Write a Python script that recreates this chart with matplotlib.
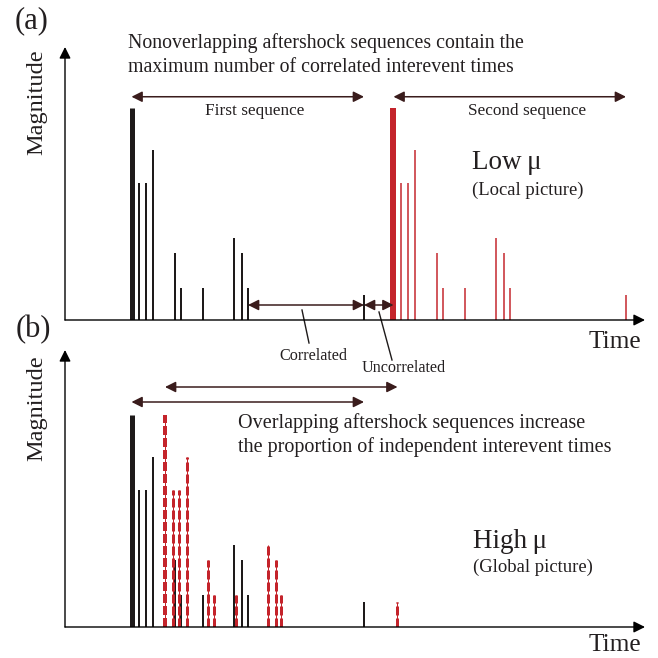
import matplotlib
matplotlib.use("Agg")
import matplotlib.pyplot as plt

plt.rcParams["font.family"] = ["Liberation Serif", "DejaVu Serif"]

# aftershock sequence: time offsets after the mainshock and magnitudes (arbitrary units)
seq_offsets = [0, 1.5, 2.9, 4.3, 8.7, 9.9, 14.3, 20.5, 22.1, 23.3, 46.5]
seq_mags = [8.5, 5.5, 5.5, 6.8, 2.7, 1.3, 1.3, 3.3, 2.7, 1.3, 1.0]

# mainshock times of the two sequences in each panel
mains_low = [13.3, 65.7]    # (a) nonoverlapping
mains_high = [13.3, 20.0]   # (b) overlapping

BLACK = "#1e1a1a"
RED = "#c4242b"
ARROW = "#3a1c1c"
TXT = "#231f20"
PX = 1 / 0.72  # pixels -> points at 100 dpi

fig = plt.figure(figsize=(6.58, 6.58), dpi=100)
W = H = 658.0


def add_panel(left, right, top, bottom):
    ax = fig.add_axes([left / W, 1 - bottom / H, (right - left) / W, (bottom - top) / H])
    ax.set_xlim(0, (right - left) / 5)
    ax.set_ylim(0, (bottom - top) / 25)
    ax.axis("off")
    # axes drawn as arrows
    for xy in [(1, 0), (0, 1)]:
        ax.annotate("", xy=xy, xytext=(0, 0), xycoords="axes fraction",
                    arrowprops=dict(arrowstyle="-|>", color="black", lw=1.0,
                                    mutation_scale=17, shrinkA=0, shrinkB=0))
    return ax


def dbl_arrow(ax, t0, t1, m, color=ARROW):
    ax.annotate("", xy=(t1, m), xytext=(t0, m),
                arrowprops=dict(arrowstyle="<|-|>", color=color, lw=1.1,
                                mutation_scale=16, shrinkA=0, shrinkB=0))


def times(t0):
    return [t0 + o for o in seq_offsets]


# ---------------- panel (a)
ax1 = add_panel(65, 645, 47, 320)
t = times(mains_low[0])
ax1.vlines(t[0], 0, seq_mags[0], color=BLACK, lw=5 / PX)
ax1.vlines(t[1:], 0, seq_mags[1:], color=BLACK, lw=2 / PX)
t2 = times(mains_low[1])
ax1.vlines(t2[0], 0, seq_mags[0], color=RED, lw=6 / PX)
ax1.vlines(t2[1:], 0, seq_mags[1:], color=RED, lw=1.5 / PX)

ax1.text(12.6, 11.08, "Nonoverlapping aftershock sequences contain the",
         fontsize=14.3, color=TXT, va="center", ha="left")
ax1.text(12.6, 10.12, "maximum number of correlated interevent times",
         fontsize=14.3, color=TXT, va="center", ha="left")

dbl_arrow(ax1, t[0], t[-1], 8.93)
ax1.text((t[0] + t[-1]) / 2 + 1.3, 8.36, "First sequence", fontsize=12.4,
         color=TXT, ha="center", va="center")
dbl_arrow(ax1, t2[0], t2[-1], 8.93)
ax1.text((t2[0] + t2[-1]) / 2 + 3.4, 8.36, "Second sequence", fontsize=12.4,
         color=TXT, ha="center", va="center")

ax1.text(81.4, 6.3, "Low\u2009\u03bc", fontsize=19.5, color=TXT, va="center")
ax1.text(81.4, 5.2, "(Local picture)", fontsize=13.4, color=TXT, va="center")

# correlated / uncorrelated interevent times
dbl_arrow(ax1, t[-2], t[-1], 0.6)
dbl_arrow(ax1, t[-1], t2[0], 0.6)
ax1.plot([47.4, 48.8], [0.4, -0.92], color=BLACK, lw=1.0, clip_on=False)
ax1.text(49.6, -1.44, "Correlated", fontsize=11.6, color=TXT, ha="center", va="center")
ax1.plot([62.8, 65.4], [0.32, -1.6], color=BLACK, lw=1.0, clip_on=False)
ax1.text(67.8, -1.92, "Uncorrelated", fontsize=11.6, color=TXT, ha="center", va="center")

# ---------------- panel (b)
ax2 = add_panel(65, 645, 350, 627)
tb = times(mains_high[0])
ax2.vlines(tb[0], 0, seq_mags[0], color=BLACK, lw=5 / PX)
ax2.vlines(tb[1:], 0, seq_mags[1:], color=BLACK, lw=2 / PX)
tr = times(mains_high[1])
for i, (x, m) in enumerate(zip(tr, seq_mags)):
    w = 4 if i == 0 else 3
    ax2.vlines(x, 0, m, color=RED, lw=1 / PX)
    ax2.vlines(x, 0, m, color=RED, lw=w / PX, linestyles=(0, (9 / w, 3 / w)))

dbl_arrow(ax2, tr[0], tr[-1], 9.6)
dbl_arrow(ax2, tb[0], tb[-1], 9.0)
ax2.text(34.6, 8.16, "Overlapping aftershock sequences increase",
         fontsize=14.5, color=TXT, va="center", ha="left")
ax2.text(34.6, 7.2, "the proportion of independent interevent times",
         fontsize=14.5, color=TXT, va="center", ha="left")

ax2.text(81.6, 3.4, "High\u2009\u03bc", fontsize=19.5, color=TXT, va="center")
ax2.text(81.6, 2.4, "(Global picture)", fontsize=13.4, color=TXT, va="center")

# ---------------- labels
fig.text(32 / W, 1 - 21 / H, "(a)", fontsize=22, color=TXT, ha="center", va="center")
fig.text(33 / W, 1 - 330 / H, "(b)", fontsize=22, color=TXT, ha="center", va="center")
fig.text(37 / W, 1 - 102 / H, "Magnitude", fontsize=17.5, color=TXT, rotation=90,
         ha="center", va="center")
fig.text(37 / W, 1 - 408 / H, "Magnitude", fontsize=17.5, color=TXT, rotation=90,
         ha="center", va="center")
fig.text(615 / W, 1 - 342 / H, "Time", fontsize=18.3, color=TXT, ha="center", va="center")
fig.text(615 / W, 1 - 645 / H, "Time", fontsize=18.3, color=TXT, ha="center", va="center")

fig.savefig("out.png", dpi=100)
